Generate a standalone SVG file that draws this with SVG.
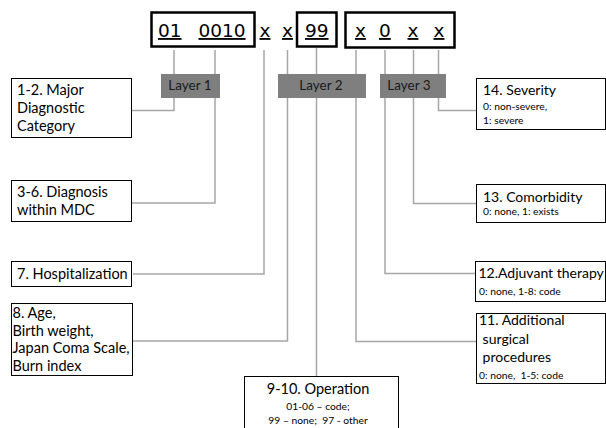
<svg xmlns="http://www.w3.org/2000/svg" width="606" height="428" viewBox="0 0 606 428">
<style>
.code{font-family:"DejaVu Sans",sans-serif;font-size:18.5px;fill:#000;text-decoration:underline}
.cbox{fill:none;stroke:#000;stroke-width:2.5}
.box{fill:#fff;stroke:#000;stroke-width:1}
.lbl{font-family:Lato,"Liberation Sans",sans-serif;font-size:14.5px;fill:#000}
.rl{font-family:Lato,"Liberation Sans",sans-serif;font-size:14px;fill:#000}
.sm{font-family:Lato,"Liberation Sans",sans-serif;font-size:10.3px;fill:#000}
.layer{fill:#7f7f7f}
.ltxt{font-family:Lato,"Liberation Sans",sans-serif;font-size:13.5px;fill:#1a1a1a;text-anchor:middle}
.conn{fill:none;stroke:#a6a6a6;stroke-width:1.5}
</style>
<rect width="606" height="428" fill="#fff"/>
<g id="connectors">
<polyline class="conn" points="174,50 174,110.5 132,110.5"/>
<polyline class="conn" points="215,50 215,203 132,203"/>
<polyline class="conn" points="264,50 264,274 133,274"/>
<polyline class="conn" points="287.5,50 287.5,341 133,341"/>
<polyline class="conn" points="316.5,48 316.5,376"/>
<polyline class="conn" points="356,50 356,341.5 476,341.5"/>
<polyline class="conn" points="385,50 385,273.5 476,273.5"/>
<polyline class="conn" points="413.5,50 413.5,203.5 477,203.5"/>
<polyline class="conn" points="438.5,50 438.5,110.5 477,110.5"/>
</g>
<g id="code">
<rect class="cbox" x="151.5" y="12.5" width="103" height="34"/>
<rect class="cbox" x="297" y="12.5" width="39.5" height="34"/>
<rect class="cbox" x="345.5" y="12.5" width="109" height="35"/>
<text class="code" x="158" y="37">01</text>
<text class="code" x="198.5" y="37">0010</text>
<text class="code" x="259.5" y="37">x</text>
<text class="code" x="282" y="37">x</text>
<text class="code" x="305" y="37">99</text>
<text class="code" x="355" y="37">x</text>
<text class="code" x="379" y="37">0</text>
<text class="code" x="407.5" y="37">x</text>
<text class="code" x="433.5" y="37">x</text>
</g>
<g id="layer1"><rect class="layer" x="161" y="74" width="59" height="24"/><text class="ltxt" x="190" y="90">Layer 1</text></g>
<g id="layer2"><rect class="layer" x="278" y="74" width="88" height="24"/><text class="ltxt" x="321" y="90">Layer 2</text></g>
<g id="layer3"><rect class="layer" x="380" y="74" width="66" height="24"/><text class="ltxt" x="409" y="90">Layer 3</text></g>
<g id="n1-2"><rect class="box" x="11.5" y="78.5" width="120" height="59"/>
<text class="lbl" x="17" y="95">1-2. Major</text><text class="lbl" x="17" y="113">Diagnostic</text><text class="lbl" x="17" y="131">Category</text></g>
<g id="n3-6"><rect class="box" x="11.5" y="180.5" width="120" height="41"/>
<text class="lbl" x="17" y="197">3-6. Diagnosis</text><text class="lbl" x="17" y="214.5">within MDC</text></g>
<g id="n7"><rect class="box" x="11.5" y="261.5" width="120" height="25"/>
<text class="lbl" x="17" y="278.5">7. Hospitalization</text></g>
<g id="n8"><rect class="box" x="11.5" y="303.5" width="121" height="72"/>
<text class="lbl" x="12.5" y="318">8. Age,</text><text class="lbl" x="12.5" y="335.5">Birth weight,</text><text class="lbl" x="12.5" y="353">Japan Coma Scale,</text><text class="lbl" x="12.5" y="370.5">Burn index</text></g>
<g id="n9-10"><rect class="box" x="244.5" y="376.5" width="154" height="60"/>
<text class="lbl" x="318" y="393.5" text-anchor="middle">9-10. Operation</text>
<text class="sm" x="318" y="409.5" text-anchor="middle">01-06 – code;</text>
<text class="sm" x="318" y="423.5" text-anchor="middle" xml:space="preserve">99 – none;  97 - other</text></g>
<g id="n11"><rect class="box" x="476.5" y="313.5" width="129" height="70"/>
<text class="rl" x="479" y="325">11. Additional</text><text class="rl" x="479" y="344" xml:space="preserve"> surgical</text><text class="rl" x="479" y="361.5" xml:space="preserve"> procedures</text>
<text class="sm" x="479" y="378.5" xml:space="preserve">0: none,  1-5: code</text></g>
<g id="n12"><rect class="box" x="475.5" y="261.5" width="130" height="40"/>
<text class="rl" x="478.5" y="277.5">12.Adjuvant therapy</text>
<text class="sm" x="479" y="294.5">0: none, 1-8: code</text></g>
<g id="n13"><rect class="box" x="476.5" y="184.5" width="129" height="38"/>
<text class="rl" x="483" y="201.5">13. Comorbidity</text>
<text class="sm" x="483" y="215">0: none, 1: exists</text></g>
<g id="n14"><rect class="box" x="476.5" y="78.5" width="129" height="51"/>
<text class="rl" x="483" y="95">14. Severity</text>
<text class="sm" x="483" y="110">0: non-severe,</text>
<text class="sm" x="483" y="123.5">1: severe</text></g>
</svg>
